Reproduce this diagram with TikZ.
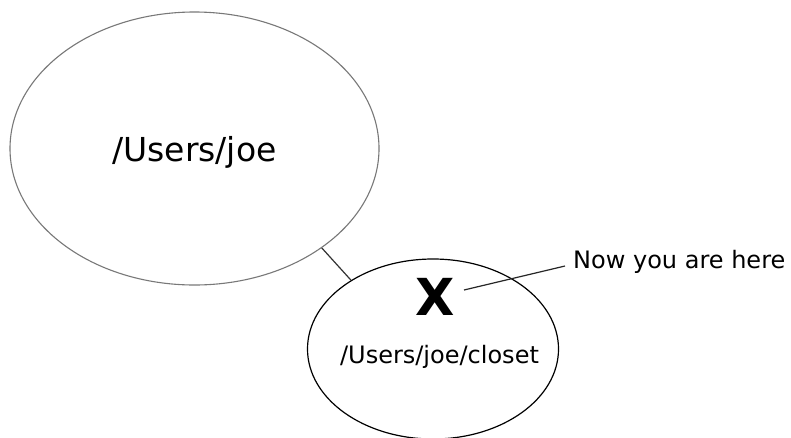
\documentclass[tikz,border=0pt]{standalone}
\usepackage{fontspec}
\setmainfont{DejaVu Sans}
\usetikzlibrary{shapes.geometric}
\definecolor{ellgray}{RGB}{120,120,120}
\definecolor{linedark}{RGB}{50,50,50}
\tikzset{
  dirbig/.style={ellipse, draw=ellgray, line width=1.1pt, inner sep=0pt,
    minimum width=369pt, minimum height=273pt},
  dirsmall/.style={ellipse, draw=black, line width=1.2pt, inner sep=0pt,
    minimum width=251pt, minimum height=180pt},
  pathtext/.style={inner sep=0pt, anchor=base, text=black},
  connector/.style={draw=linedark, line width=1.2pt},
  pointer/.style={draw=black!85, line width=1.2pt}
}
\begin{document}
\begin{tikzpicture}[x=1pt,y=-1pt]
  \useasboundingbox (0,0) rectangle (791,437);
  \fill[white] (0,0) rectangle (791,437);
  \begin{scope}
  \clip (0,0) rectangle (791,437);
  \node[dirbig] (home) at (194.5,148.5) {};
  \node[dirsmall] (closet) at (433,349) {};
  \end{scope}
  \node[pathtext, font=\fontsize{33}{40}\selectfont] (hometext) at (194.5,161) {/Users/joe};
  \node[pathtext, font=\fontsize{24}{29}\selectfont] (closettext) at (439.5,363) {/Users/joe/closet};
  \node[inner sep=0pt, font=\bfseries\fontsize{51}{60}\selectfont] (xmark) at (435.5,296.5) {X};
  \node[inner sep=0pt, anchor=base west, font=\fontsize{24}{29}\selectfont] (here) at (573,268) {Now you are here};
  \coordinate (pstart) at (464,290);
  \coordinate (pend) at (565,266);
  \draw[connector] (home.-38) -- (closet.140);
  \draw[pointer] (pstart) -- (pend);
\end{tikzpicture}
\end{document}
